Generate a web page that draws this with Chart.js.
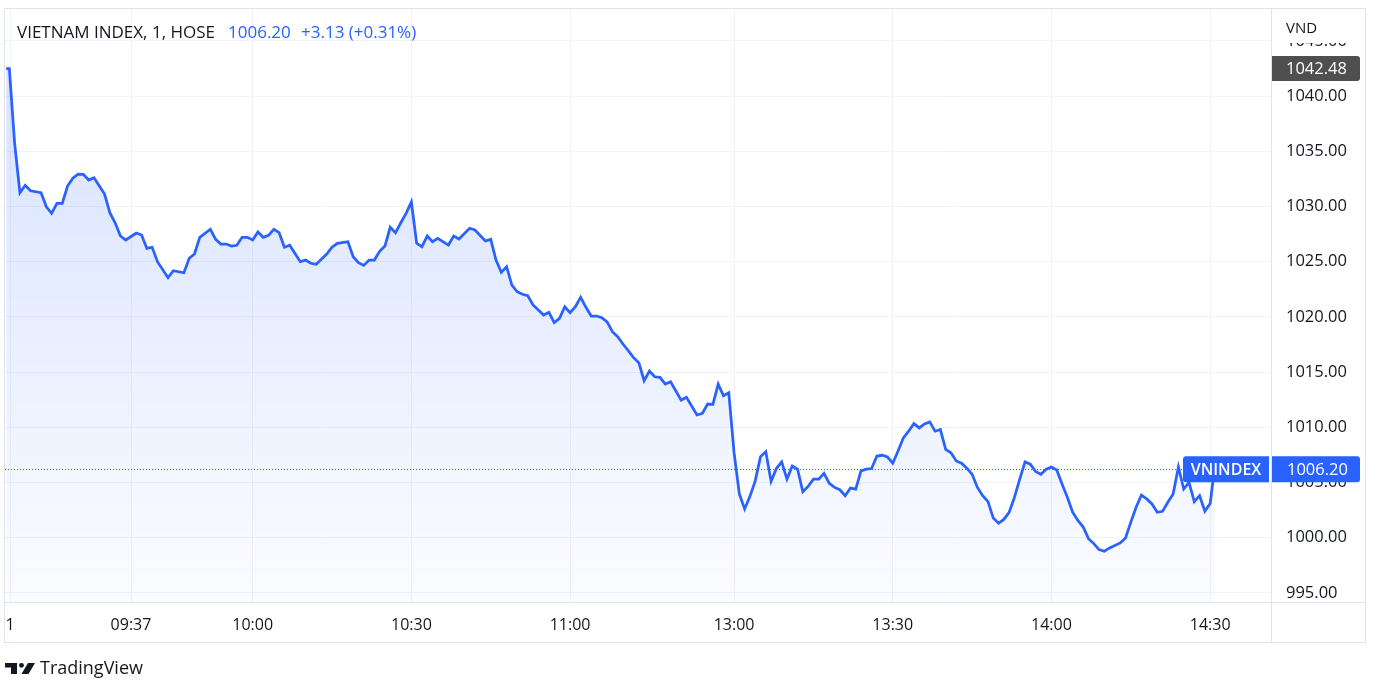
<!DOCTYPE html>
<html>
<head>
<meta charset="utf-8">
<script src="https://cdn.jsdelivr.net/npm/chart.js@4.4.0/dist/chart.umd.min.js"></script>
<style>
html, body { margin: 0; padding: 0; background: #fff; }
#wrap { width: 1382px; height: 697px; }
</style>
</head>
<body>
<div id="wrap"><canvas id="chart" width="1382" height="697"></canvas></div>
<script>
// session minutes (9:00 = 0, lunch break squeezed out, 13:00 = 151)
const barIndex = [
  13.4, 14, 15, 16, 17, 18, 20, 21, 22, 23, 24, 25, 26, 27, 28, 29, 30, 32, 33, 34,
  35, 36, 38, 39, 40, 41, 42, 44, 45, 47, 48, 49, 50, 52, 53, 54, 55, 56, 57, 58,
  59, 60, 61, 62, 63, 64, 65, 66, 67, 69, 70, 71, 72, 74, 75, 76, 78, 79, 80, 81,
  82, 83, 84, 85, 86, 87, 88, 89, 90, 91, 92, 93, 94, 95, 97, 98, 99, 101, 102, 104,
  105, 106, 107, 108, 109, 110, 111, 112, 113, 115, 116, 117, 118, 119, 120, 121, 122, 123, 124, 125,
  126, 127, 128, 129, 130, 131, 132, 133, 134, 135, 136, 137, 138, 139, 141, 142, 144, 145, 146, 147,
  148, 149, 150, 151, 152, 153, 154, 155, 156, 157, 158, 159, 160, 161, 162, 163, 164, 165, 166, 167,
  168, 169, 170, 171, 172, 173, 174, 175, 176, 177, 178, 179, 180, 181, 182, 183, 184, 185, 186, 187,
  188, 189, 190, 191, 192, 193, 194, 195, 196, 197, 198, 199, 200, 201, 202, 203, 204, 205, 206, 207,
  208, 209, 210, 211, 212, 213, 214, 215, 216, 217, 218, 219, 220, 221, 222, 224, 225, 226, 227, 228,
  229, 230, 231, 232, 233, 234, 235, 236, 237, 238, 239, 240, 241, 241.8
];
const closes = [
  1042.48, 1042.48, 1035.72, 1031.24, 1031.91, 1031.42, 1031.24, 1029.97, 1029.37, 1030.28, 1030.28, 1031.85, 1032.55, 1032.93, 1032.91, 1032.39, 1032.60, 1031.12, 1029.43, 1028.52,
  1027.32, 1026.96, 1027.59, 1027.41, 1026.20, 1026.30, 1024.99, 1023.54, 1024.18, 1023.99, 1025.30, 1025.69, 1027.20, 1027.93, 1027.02, 1026.59, 1026.59, 1026.41, 1026.48, 1027.20,
  1027.20, 1026.96, 1027.68, 1027.20, 1027.38, 1027.93, 1027.62, 1026.30, 1026.48, 1024.99, 1025.14, 1024.85, 1024.76, 1025.69, 1026.30, 1026.66, 1026.80, 1025.44, 1024.90, 1024.66,
  1025.14, 1025.14, 1025.93, 1026.41, 1028.11, 1027.62, 1028.52, 1029.37, 1030.40, 1026.66, 1026.35, 1027.32, 1026.80, 1027.11, 1026.50, 1027.32, 1027.05, 1028.02, 1027.86, 1026.87,
  1027.02, 1025.14, 1024.03, 1024.54, 1022.88, 1022.27, 1022.04, 1021.91, 1021.07, 1020.16, 1020.41, 1019.47, 1019.86, 1020.91, 1020.37, 1020.91, 1021.77, 1020.86, 1020.07, 1020.07,
  1019.92, 1019.55, 1018.65, 1018.20, 1017.54, 1016.93, 1016.30, 1015.84, 1014.21, 1015.09, 1014.57, 1014.52, 1013.91, 1014.12, 1012.46, 1012.71, 1011.11, 1011.26, 1012.10, 1012.07,
  1013.91, 1012.85, 1013.12, 1007.69, 1003.95, 1002.60, 1003.74, 1005.14, 1007.34, 1007.78, 1005.09, 1006.26, 1006.86, 1005.30, 1006.49, 1006.20, 1004.16, 1004.64, 1005.30, 1005.30,
  1005.83, 1004.91, 1004.55, 1004.34, 1003.80, 1004.49, 1004.40, 1006.04, 1006.20, 1006.26, 1007.39, 1007.46, 1007.30, 1006.74, 1007.84, 1009.04, 1009.64, 1010.33, 1009.94, 1010.30,
  1010.48, 1009.64, 1009.79, 1007.99, 1007.69, 1006.95, 1006.74, 1006.29, 1005.74, 1004.55, 1003.80, 1003.26, 1001.77, 1001.31, 1001.65, 1002.30, 1003.65, 1005.30, 1006.86, 1006.65,
  1005.99, 1005.74, 1006.20, 1006.40, 1006.13, 1004.85, 1003.65, 1002.30, 1001.56, 1000.96, 999.91, 999.46, 998.92, 998.77, 999.07, 999.52, 999.97, 1001.40, 1002.75, 1003.86,
  1003.51, 1003.05, 1002.30, 1002.39, 1003.21, 1003.95, 1006.40, 1004.40, 1005.00, 1003.26, 1003.80, 1002.40, 1003.10, 1006.20
];
const tickValues = [14.15, 37, 60, 90, 120, 151, 181, 211, 241];
const tickLabels = ['1', '09:37', '10:00', '10:30', '11:00', '13:00', '13:30', '14:00', '14:30'];
const priceTicks = [995, 1000, 1005, 1010, 1015, 1020, 1025, 1030, 1035, 1040, 1045];
const lastPrice = 1006.20;
const highPrice = 1042.48;
const symbolName = 'VNINDEX';
const titleText = 'VIETNAM INDEX, 1, HOSE';
const changeText = '+3.13 (+0.31%)';
const unitText = 'VND';

const blue = '#2962ff';
const textColor = '#131722';
const fontFamily = '"Open Sans", Roboto, sans-serif';

// keep chart.js from shrinking the plot for edge labels
function noPad(s) {
  s.paddingLeft = 0;
  s.paddingRight = 0;
  s.paddingTop = 0;
  s.paddingBottom = 0;
}

const decor = {
  id: 'decor',
  beforeDatasetsDraw(chart) {
    const ctx = chart.ctx;
    const a = chart.chartArea;
    const y = Math.round(chart.scales.y.getPixelForValue(lastPrice)) + 0.5;
    ctx.save();
    ctx.strokeStyle = blue;
    ctx.lineWidth = 1;
    ctx.setLineDash([1, 2]);
    ctx.beginPath();
    ctx.moveTo(a.left, y);
    ctx.lineTo(a.right, y);
    ctx.stroke();
    ctx.restore();
  },
  afterDraw(chart) {
    const ctx = chart.ctx;
    const a = chart.chartArea;
    const ys = chart.scales.y;
    ctx.save();

    // cover above the top price label + unit
    ctx.fillStyle = '#fff';
    ctx.fillRect(a.right + 1, a.top, 95, 34);
    ctx.fillStyle = textColor;
    ctx.font = '15px ' + fontFamily;
    ctx.textBaseline = 'alphabetic';
    ctx.textAlign = 'left';
    ctx.fillText(unitText, 1286, 33);

    // frame
    ctx.strokeStyle = '#e0e3eb';
    ctx.lineWidth = 1;
    ctx.strokeRect(4.5, 8.5, 1361, 634);
    ctx.beginPath();
    ctx.moveTo(5, a.bottom - 0.5);
    ctx.lineTo(1366, a.bottom - 0.5);
    ctx.moveTo(a.right + 0.5, 9);
    ctx.lineTo(a.right + 0.5, 643);
    ctx.stroke();

    // high label
    let yh = ys.getPixelForValue(highPrice);
    ctx.fillStyle = '#4f4f4f';
    ctx.beginPath();
    ctx.roundRect(a.right + 1, yh - 12.5, 88, 25, [0, 3, 3, 0]);
    ctx.fill();
    ctx.fillStyle = '#fff';
    ctx.font = '16.5px ' + fontFamily;
    ctx.textAlign = 'left';
    ctx.textBaseline = 'middle';
    ctx.fillText(highPrice.toFixed(2), 1286, yh + 1);

    // last price labels
    let yl = ys.getPixelForValue(lastPrice);
    ctx.fillStyle = blue;
    ctx.beginPath();
    ctx.roundRect(1183, yl - 13, 86, 26, [3, 0, 0, 3]);
    ctx.fill();
    ctx.beginPath();
    ctx.roundRect(a.right + 1, yl - 13, 88, 26, [0, 3, 3, 0]);
    ctx.fill();
    ctx.fillStyle = '#fff';
    ctx.fillText(lastPrice.toFixed(2), 1287, yl + 1);
    ctx.textAlign = 'center';
    ctx.font = '600 16px ' + fontFamily;
    ctx.fillText(symbolName, 1226, yl + 1);

    // legend
    ctx.textAlign = 'left';
    ctx.textBaseline = 'alphabetic';
    ctx.font = '17px ' + fontFamily;
    ctx.fillStyle = textColor;
    ctx.fillText(titleText, 17, 38);
    ctx.fillStyle = blue;
    ctx.fillText(lastPrice.toFixed(2), 228, 38);
    ctx.fillText(changeText, 301, 38);

    // TradingView mark
    ctx.fillStyle = textColor;
    ctx.fillRect(5, 663, 12, 4.5);
    ctx.fillRect(11, 663, 6, 11);
    ctx.beginPath();
    ctx.arc(21.5, 665.3, 2.4, 0, Math.PI * 2);
    ctx.fill();
    ctx.beginPath();
    ctx.moveTo(28, 663);
    ctx.lineTo(35, 663);
    ctx.lineTo(28.5, 674);
    ctx.lineTo(21.5, 674);
    ctx.closePath();
    ctx.fill();
    ctx.font = '18px ' + fontFamily;
    ctx.fillText('TradingView', 40, 674);

    ctx.restore();
  }
};

const ctx = document.getElementById('chart').getContext('2d');
new Chart(ctx, {
  type: 'line',
  data: {
    datasets: [{
      data: barIndex.map((x, i) => ({ x: x, y: closes[i] })),
      borderColor: blue,
      borderWidth: 2.75,
      pointRadius: 0,
      tension: 0,
      fill: 'start',
      backgroundColor: (c) => {
        const a = c.chart.chartArea;
        if (!a) return 'rgba(41,98,255,0.1)';
        const g = c.chart.ctx.createLinearGradient(0, a.top, 0, a.bottom);
        g.addColorStop(0, 'rgba(41,98,255,0.2)');
        g.addColorStop(1, 'rgba(41,98,255,0.02)');
        return g;
      }
    }]
  },
  options: {
    responsive: false,
    animation: false,
    devicePixelRatio: 1,
    layout: { padding: { left: 5, top: 9, right: 15, bottom: 54 } },
    plugins: { legend: { display: false }, tooltip: { enabled: false } },
    scales: {
      x: {
        type: 'linear',
        min: 13.18,
        max: 252.5,
        afterBuildTicks: (s) => { s.ticks = tickValues.map(v => ({ value: v })); },
        afterFit: (s) => { s.height = 40; noPad(s); },
        ticks: {
          autoSkip: false,
          maxRotation: 0,
          padding: 13,
          color: textColor,
          font: { family: fontFamily, size: 16 },
          callback: (v, i) => tickLabels[i]
        },
        grid: { color: '#f0f3fa', drawTicks: false },
        border: { display: false }
      },
      y: {
        position: 'right',
        min: 994.08,
        max: 1047.88,
        afterBuildTicks: (s) => { s.ticks = priceTicks.map(v => ({ value: v })); },
        afterFit: (s) => { s.width = 96; noPad(s); },
        ticks: {
          padding: 15,
          color: textColor,
          font: { family: fontFamily, size: 16.5 },
          callback: (v) => Number(v).toFixed(2)
        },
        grid: { color: '#f0f3fa', drawTicks: false },
        border: { display: false }
      }
    }
  },
  plugins: [decor]
});
</script>
</body>
</html>
